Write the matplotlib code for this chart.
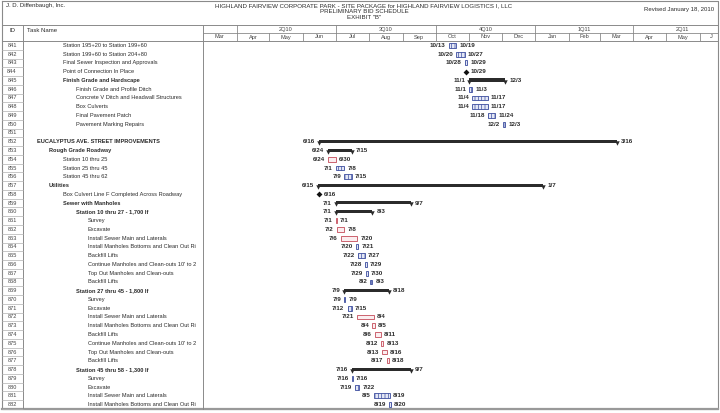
import matplotlib
matplotlib.use('Agg')
import matplotlib.pyplot as plt
import matplotlib.dates as mdates
from datetime import date, timedelta

plt.rcParams['font.family'] = ['Liberation Sans', 'DejaVu Sans']
plt.rcParams['hatch.linewidth'] = 0.5

# ---------------- data ----------------
ids = list(range(841, 883))
names = [
    "Station 195+20 to Station 199+60", "Station 199+60 to Station 204+80",
    "Final Sewer Inspection and Approvals", "Point of Connection In Place",
    "Finish Grade and Hardscape", "Finish Grade and Profile Ditch",
    "Concrete V Ditch and Headwall Structures", "Box Culverts",
    "Final Pavement Patch", "Pavement Marking Repairs", "",
    "EUCALYPTUS AVE. STREET IMPROVEMENTS", "Rough Grade Roadway",
    "Station 10 thru 25", "Station 25 thru 45", "Station 45 thru 62",
    "Utilities", "Box Culvert Line F Completed Across Roadway",
    "Sewer with Manholes", "Station 10 thru 27 - 1,700 lf",
    "Survey", "Excavate", "Install Sewer Main and Laterals",
    "Install Manholes Bottoms and Clean Out Ri", "Backfill Lifts",
    "Continue Manholes and Clean-outs 10' to 2", "Top Out Manholes and Clean-outs",
    "Backfill Lifts", "Station 27 thru 45 - 1,800 lf",
    "Survey", "Excavate", "Install Sewer Main and Laterals",
    "Install Manholes Bottoms and Clean Out Ri", "Backfill Lifts",
    "Continue Manholes and Clean-outs 10' to 2", "Top Out Manholes and Clean-outs",
    "Backfill Lifts", "Station 45 thru 58 - 1,300 lf",
    "Survey", "Excavate", "Install Sewer Main and Laterals",
    "Install Manholes Bottoms and Clean Out Ri",
]
levels = [3, 3, 3, 3, 3, 4, 4, 4, 4, 4, 0,
          1, 2, 3, 3, 3, 2, 3, 3, 4,
          5, 5, 5, 5, 5, 5, 5, 5, 4,
          5, 5, 5, 5, 5, 5, 5, 5, 4,
          5, 5, 5, 5]
kinds = ["task", "task", "task", "milestone", "summary", "task", "task", "task", "task", "task", None,
         "summary", "summary", "task", "task", "task", "summary", "milestone", "summary", "summary",
         "task", "task", "task", "task", "task", "task", "task", "task", "summary",
         "task", "task", "task", "task", "task", "task", "task", "task", "summary",
         "task", "task", "task", "task"]
starts = ["2010-10-13", "2010-10-20", "2010-10-28", "2010-10-29", "2010-11-01", "2010-11-01",
          "2010-11-04", "2010-11-04", "2010-11-18", "2010-12-02", None,
          "2010-06-16", "2010-06-24", "2010-06-24", "2010-07-01", "2010-07-09", "2010-06-15",
          "2010-06-16", "2010-07-01", "2010-07-01",
          "2010-07-01", "2010-07-02", "2010-07-06", "2010-07-20", "2010-07-22", "2010-07-28",
          "2010-07-29", "2010-08-02", "2010-07-09",
          "2010-07-09", "2010-07-12", "2010-07-21", "2010-08-04", "2010-08-06", "2010-08-12",
          "2010-08-13", "2010-08-17", "2010-07-16",
          "2010-07-16", "2010-07-19", "2010-08-05", "2010-08-19"]
ends = ["2010-10-19", "2010-10-27", "2010-10-29", "2010-10-29", "2010-12-03", "2010-11-03",
        "2010-11-17", "2010-11-17", "2010-11-24", "2010-12-03", None,
        "2011-03-16", "2010-07-15", "2010-06-30", "2010-07-08", "2010-07-15", "2011-01-07",
        "2010-06-16", "2010-09-07", "2010-08-03",
        "2010-07-01", "2010-07-08", "2010-07-20", "2010-07-21", "2010-07-27", "2010-07-29",
        "2010-07-30", "2010-08-03", "2010-08-18",
        "2010-07-09", "2010-07-15", "2010-08-04", "2010-08-05", "2010-08-11", "2010-08-13",
        "2010-08-16", "2010-08-18", "2010-09-07",
        "2010-07-16", "2010-07-22", "2010-08-19", "2010-08-20"]
bar_colors = ["b", "b", "b", "", "", "b", "b", "b", "b", "b", "",
              "", "", "r", "b", "b", "", "", "", "",
              "r", "r", "r", "b", "b", "b", "b", "b", "",
              "b", "b", "r", "r", "r", "r", "r", "r", "",
              "b", "b", "b", "b"]
quarter_labels = ["", "2Q10", "3Q10", "4Q10", "1Q11", "2Q11"]
month_labels = ["Mar", "Apr", "May", "Jun", "Jul", "Aug", "Sep", "Oct", "Nov", "Dec",
                "Jan", "Feb", "Mar", "Apr", "May", "J"]
title_lines = ["HIGHLAND FAIRVIEW CORPORATE PARK - SITE PACKAGE for HIGHLAND FAIRVIEW LOGISTICS I, LLC",
               "PRELIMINARY BID SCHEDULE", 'EXHIBIT "B"']
company = "J. D. Diffenbaugh, Inc."
revised = "Revised January 18, 2010"

# ---------------- layout (pixels) ----------------
W, H = 720, 413
X0, X_ID, X_TN, X1 = 2, 23, 203, 718
Y0, Y_HDR, Y_QM, Y_ROWS, Y_BOT = 1, 25, 33, 41, 409
LEVEL_X = {0: 37, 1: 37, 2: 49, 3: 63, 4: 76, 5: 88}
TXT = '#2a2a2a'
GRID = '#8a8a8a'
BLUE = '#3b4c9e'
RED = '#c44a58'

fig = plt.figure(figsize=(W / 100, H / 100), dpi=100)
bg = fig.add_axes([0, 0, 1, 1])
bg.set_xlim(0, W)
bg.set_ylim(H, 0)
bg.axis('off')

def fbox(x0, y0, x1, y1):
    return [x0 / W, 1 - y1 / H, (x1 - x0) / W, (y1 - y0) / H]

xmin = date(2010, 3, 1)
xmax = date(2011, 6, 18)

# ---- frame lines ----
bg.plot([X0, X1, X1, X0, X0], [Y0, Y0, Y_BOT, Y_BOT, Y0], color=GRID, lw=0.8)
bg.plot([X0, X1], [Y_BOT, Y_BOT], color='#999999', lw=1.6)
bg.plot([X0, X1], [Y_HDR, Y_HDR], color=GRID, lw=0.7)
bg.plot([X0, X1], [Y_ROWS, Y_ROWS], color=GRID, lw=0.7)
bg.plot([X_ID, X_ID], [Y_HDR, Y_BOT], color=GRID, lw=0.7)
bg.plot([X_TN, X_TN], [Y_HDR, Y_BOT], color=GRID, lw=0.7)
bg.plot([X_TN, X1], [Y_QM, Y_QM], color=GRID, lw=0.6)

# ---- title block ----
bg.text(6, 6, company, fontsize=4.3, color=TXT, va='center', ha='left')
for i, t in enumerate(title_lines):
    bg.text(364, 6 + i * 5.6, t, fontsize=4.4, color=TXT, va='center', ha='center')
bg.text(714, 10, revised, fontsize=4.3, color=TXT, va='center', ha='right')
bg.text(12, 30, "ID", fontsize=4.3, color=TXT, va='center', ha='center')
bg.text(27, 30, "Task Name", fontsize=4.3, color=TXT, va='center', ha='left')

# ---- ID column and task names ----
n = len(ids)
rowh = (Y_BOT - Y_ROWS) / n
for i in range(n):
    yc = Y_ROWS + (i + 0.5) * rowh
    bg.plot([X0, X_ID], [Y_ROWS + (i + 1) * rowh] * 2, color='#b0b0b0', lw=0.5)
    bg.text(12, yc, str(ids[i]), fontsize=4.1, color='#444444', va='center', ha='center')

tn = fig.add_axes(fbox(X_ID, Y_ROWS, X_TN - 1, Y_BOT))
tn.set_xlim(X_ID, X_TN - 1)
tn.set_ylim(n - 0.5, -0.5)
tn.axis('off')
for i in range(n):
    if names[i]:
        tn.text(LEVEL_X[levels[i]], i, names[i], fontsize=4.1, color=TXT, va='center', ha='left',
                fontweight='bold' if kinds[i] == 'summary' else 'normal', clip_on=True)

# ---- timescale header ----
hx = fig.add_axes(fbox(X_TN, Y_HDR, X1, Y_ROWS))
hx.set_xlim(xmin, xmax)
hx.set_ylim(0, 2)
hx.axis('off')
month_starts = []
for k in range(len(month_labels) + 1):
    yy = 2010 + (2 + k) // 12
    mm = (2 + k) % 12 + 1
    month_starts.append(date(yy, mm, 1))
for k, lab in enumerate(month_labels):
    a = mdates.date2num(month_starts[k])
    b = min(mdates.date2num(month_starts[k + 1]), mdates.date2num(xmax))
    if lab == "J":
        c = a + 11
    else:
        c = (a + b) / 2
    hx.text(c, 0.5, lab, fontsize=4.1, color='#444444', ha='center', va='center')
    if k > 0:
        hx.plot([a, a], [0, 1], color=GRID, lw=0.6)
q_starts = [date(2010, 1, 1), date(2010, 4, 1), date(2010, 7, 1), date(2010, 10, 1),
            date(2011, 1, 1), date(2011, 4, 1), date(2011, 7, 1)]
for k, lab in enumerate(quarter_labels):
    a = mdates.date2num(q_starts[k])
    b = mdates.date2num(q_starts[k + 1])
    if lab:
        hx.text((a + b) / 2, 1.5, lab, fontsize=4.1, color='#444444', ha='center', va='center')
    if k > 0:
        hx.plot([a, a], [1, 2], color=GRID, lw=0.6)

# ---- gantt ----
ax = fig.add_axes(fbox(X_TN, Y_ROWS, X1, Y_BOT))
ax.set_xlim(xmin, xmax)
ax.set_ylim(n - 0.5, -0.5)
ax.axis('off')

def lab(d):
    return f"{d.month}/{d.day}"

LFS = 4.5
for i in range(n):
    k = kinds[i]
    if k is None:
        continue
    s = date.fromisoformat(starts[i])
    e = date.fromisoformat(ends[i])
    sx = mdates.date2num(s)
    ex = mdates.date2num(e + timedelta(days=1))
    if k == 'milestone':
        ax.plot([sx], [i], marker='D', ms=3.0, color='#111111', mew=0)
        ax.annotate(lab(e), (sx, i), xytext=(3, 0), textcoords='offset points',
                    fontsize=LFS, fontweight='bold', color=TXT, va='center', ha='left')
        continue
    if k == 'summary':
        ax.barh(i - 0.05, ex - sx, left=sx, height=0.36, color='#2b2b2b', lw=0)
        ax.plot([sx, ex], [i + 0.16, i + 0.16], ls='none', marker='v', ms=3.2,
                color='#2b2b2b', mew=0)
        off = 3.0
    else:
        if bar_colors[i] == 'b':
            ax.barh(i, ex - sx, left=sx, height=0.55, facecolor='#e4e8f6',
                    edgecolor=BLUE, lw=0.6, hatch='|||||')
        else:
            ax.barh(i, ex - sx, left=sx, height=0.55, facecolor='#fbeef0',
                    edgecolor=RED, lw=0.6)
        off = 2.2
    ax.annotate(lab(s), (sx, i), xytext=(-off, 0), textcoords='offset points',
                fontsize=LFS, fontweight='bold', color=TXT, va='center', ha='right')
    ax.annotate(lab(e), (ex, i), xytext=(off, 0), textcoords='offset points',
                fontsize=LFS, fontweight='bold', color=TXT, va='center', ha='left')

fig.savefig('out.png', dpi=100)
